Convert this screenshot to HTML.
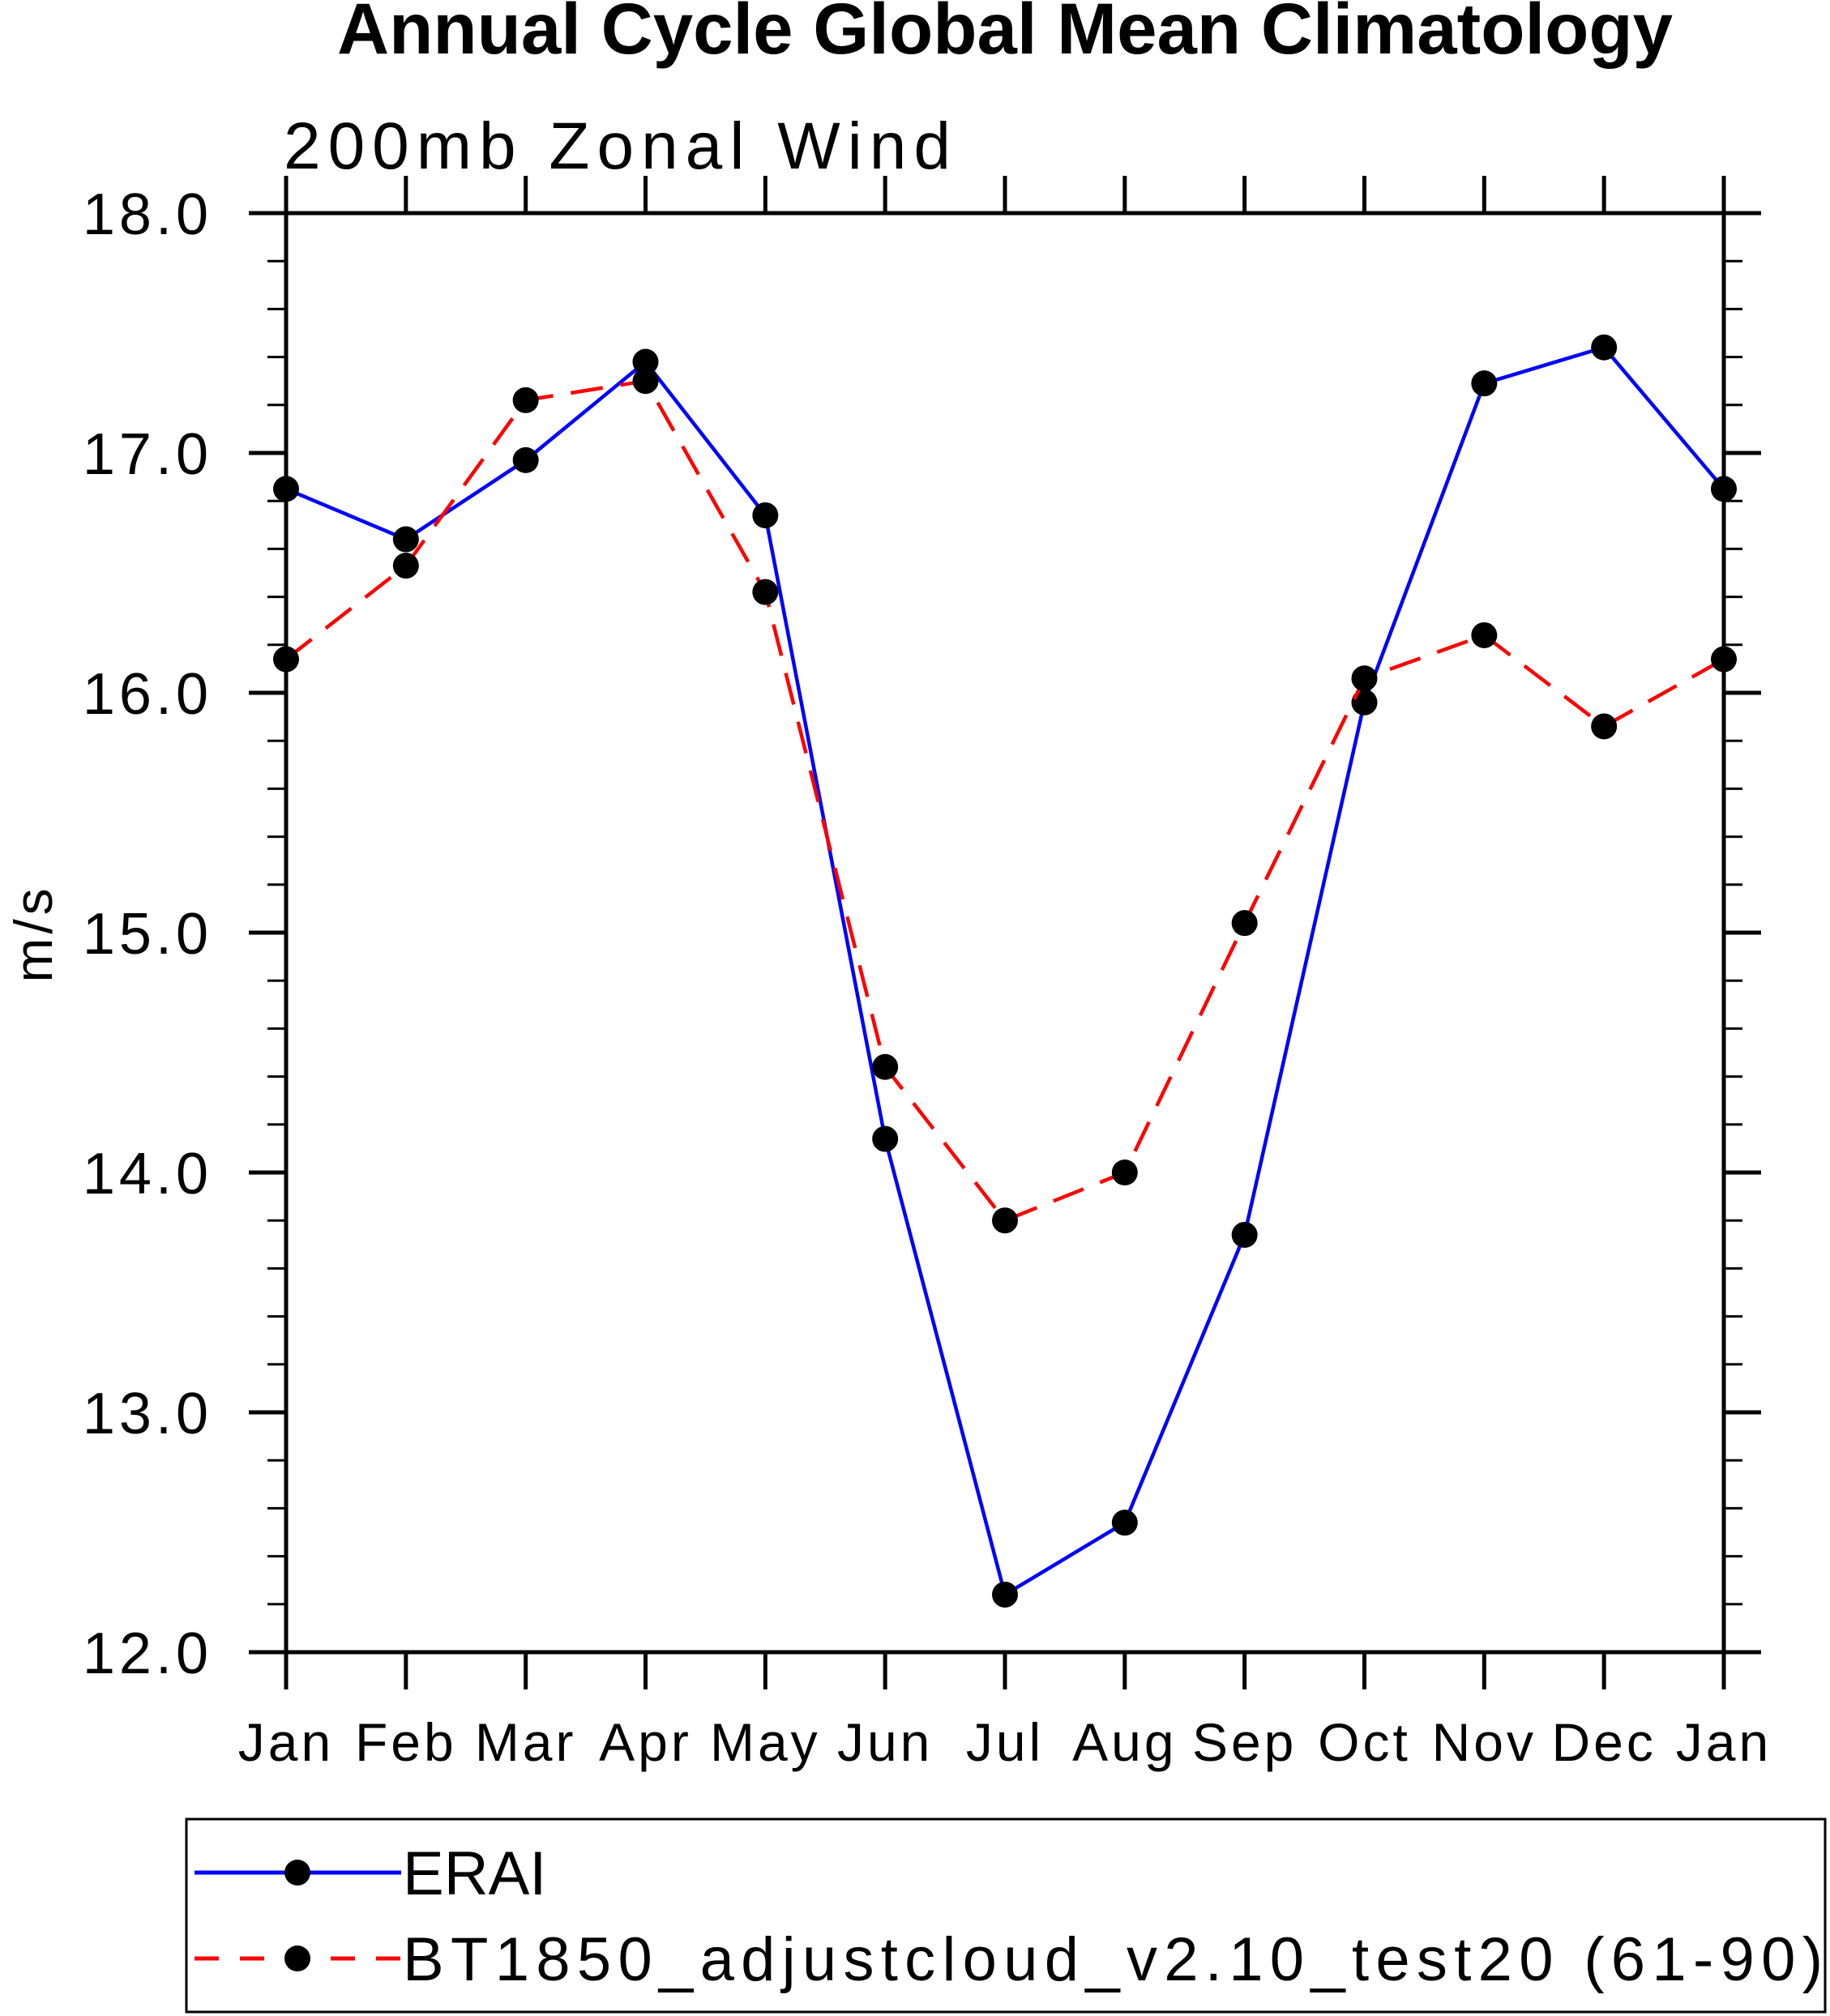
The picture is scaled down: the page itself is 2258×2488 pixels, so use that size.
<!DOCTYPE html>
<html><head><meta charset="utf-8"><style>
html,body{margin:0;padding:0;background:#fff;}
svg{display:block;font-family:"Liberation Sans",sans-serif;}
</style></head><body>
<svg id="chart" width="2258" height="2488" viewBox="0 0 2258 2488" xmlns="http://www.w3.org/2000/svg">
<text x="1240" y="66" font-size="89" font-weight="bold" text-anchor="middle" textLength="1648" lengthAdjust="spacingAndGlyphs">Annual Cycle Global Mean Climatology</text>
<text x="350" y="208" font-size="82" textLength="823">200mb Zonal Wind</text>
<text transform="translate(64,1152) rotate(-90)" font-size="66" letter-spacing="5" text-anchor="middle">m/s</text>
<g id="grid"></g>
<g id="series"></g>
<g>
<rect x="230" y="2245" width="2022" height="238" fill="none" stroke="#000" stroke-width="3"/>
<line x1="240" y1="2311" x2="495" y2="2311" stroke="#0000ff" stroke-width="5"/>
<circle cx="367" cy="2311" r="16" fill="#000"/>
<text x="497" y="2338" font-size="76">ERAI</text>
<line x1="240" y1="2417" x2="495" y2="2417" stroke="#ff0000" stroke-width="5" stroke-dasharray="30,26"/>
<circle cx="367" cy="2417" r="16" fill="#000"/>
<text x="497" y="2444" font-size="76" textLength="1752">BT1850_adjustcloud_v2.10_test20 (61-90)</text>
</g>
</svg>
<script>
const months = ["Jan","Feb","Mar","Apr","May","Jun","Jul","Aug","Sep","Oct","Nov","Dec","Jan"];
const eraiValues = [16.85,16.64,16.97,17.38,16.74,14.14,12.24,12.54,13.74,15.96,17.29,17.44,16.85];
const btValues = [16.14,16.53,17.22,17.30,16.42,14.44,13.80,14.00,15.04,16.06,16.24,15.86,16.14];
const yTickLabels = ["12.0","13.0","14.0","15.0","16.0","17.0","18.0"];
const yMin = 12, yMax = 18;

const NS = "http://www.w3.org/2000/svg";
const L = 353, R = 2127, T = 263, B = 2039;
const xs = i => L + (R - L) * i / (months.length - 1);
const ys = v => B - (B - T) * (v - yMin) / (yMax - yMin);
function mk(tag, attrs, parent) {
  const e = document.createElementNS(NS, tag);
  for (const k in attrs) e.setAttribute(k, attrs[k]);
  parent.appendChild(e);
  return e;
}
const g = document.getElementById('grid');
const s = document.getElementById('series');
const sw = 5;
let fr = mk('rect', {x:L, y:T, width:R-L, height:B-T, fill:'none', stroke:'#000', 'stroke-width':sw}, g);


months.forEach((m, i) => {
  const x = xs(i);
  let t1 = mk('line', {x1:x, y1:B, x2:x, y2:B+46, stroke:'#000', 'stroke-width':sw}, g);
  
  
  let t2 = mk('line', {x1:x, y1:T, x2:x, y2:T-46, stroke:'#000', 'stroke-width':sw}, g);
  
  
  let lb = mk('text', {x:x, y:2173, 'font-size':66, 'text-anchor':'middle', 'letter-spacing':4}, g);
  lb.textContent = m;
  
  
});
for (let v = yMin; v <= yMax + 1e-9; v += 0.2) {
  const y = ys(v);
  const major = Math.abs(v - Math.round(v)) < 1e-6;
  const len = major ? 46 : 23;
  let a = mk('line', {x1:L-len, y1:y, x2:L, y2:y, stroke:'#000', 'stroke-width':major?sw:3}, g);
  
  
  let b = mk('line', {x1:R, y1:y, x2:R+len, y2:y, stroke:'#000', 'stroke-width':major?sw:3}, g);
  
  
}
yTickLabels.forEach(lab => {
  const y = ys(parseFloat(lab));
  let t = mk('text', {x:262, y:y+26, 'font-size':72, 'text-anchor':'end', 'letter-spacing':5}, g);
  t.textContent = lab;
  
  
});
function drawSeries(vals, color, dash, name) {
  const pts = vals.map((v, i) => xs(i) + ',' + ys(v)).join(' ');
  const attrs = {points:pts, fill:'none', stroke:color, 'stroke-width':4.5};
  if (dash) attrs['stroke-dasharray'] = dash;
  let pl = mk('polyline', attrs, s);
  
  
  vals.forEach((v, i) => {
    let c = mk('circle', {cx:xs(i), cy:ys(v), r:16, fill:'#000'}, s);
    
    
  });
}
drawSeries(eraiValues, '#0000ff', null, 'erai');
drawSeries(btValues, '#ff0000', '40,22', 'bt1850');
</script>
</body></html>
